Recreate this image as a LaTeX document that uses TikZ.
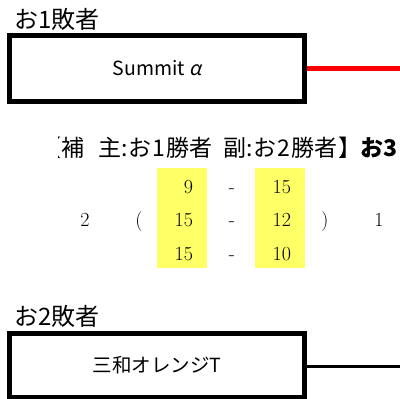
\documentclass[tikz,border=0pt]{standalone}
\usepackage{fontspec}
\usetikzlibrary{positioning}
\newfontfamily\jpfont{Noto Sans CJK JP}
\newfontfamily\jpwide[LetterSpace=3]{Noto Sans CJK JP}
\newfontfamily\jpslant[FakeSlant=0.2]{Noto Sans CJK JP}
\definecolor{scoreyellow}{RGB}{255,255,102}

\begin{document}
\begin{tikzpicture}[x=1pt,y=-1pt]

	\tikzstyle{team}  = [rectangle, draw=black, line width=5pt, minimum width=295pt, minimum height=66pt, inner sep=0pt, font=\jpfont\fontsize{19.5}{22}\selectfont]
	\tikzstyle{tag}   = [anchor=base west, inner sep=0pt, font=\jpfont\fontsize{24}{26}\selectfont]
	\tikzstyle{ref}   = [anchor=base west, inner sep=0pt, font=\jpwide\fontsize{23}{25}\selectfont]
	\tikzstyle{cell}  = [fill=scoreyellow, minimum height=33.4pt, inner xsep=14pt, inner ysep=0pt, outer sep=0pt, text width=22pt, align=right, text height=17.2pt, text depth=0pt, font=\fontsize{20}{22}\selectfont]
	\tikzstyle{num}   = [anchor=base, inner sep=0pt, font=\fontsize{20}{22}\selectfont]
	\tikzstyle{winline}  = [draw=red, line width=5pt]
	\tikzstyle{loseline} = [draw=black, line width=3pt]

	\useasboundingbox (0,0) rectangle (400,399);

	% losers of the earlier rounds
	\node [tag] (tag1) at (14,28) {お1敗者};
	\node [team] (loser1) at (157,68.5) {Summit {\jpslant α}};
	\coordinate (end1) at (400,68.5);
	\draw [winline] (loser1.east) -- (end1);

	\node [tag] (tag2) at (14,325) {お2敗者};
	\node [team, minimum height=64pt] (loser2) at (157,365.5) {三和オレンジT};
	\coordinate (end2) at (400,366);
	\draw [loseline] (loser2.east |- end2) -- (end2);

	% referee line, cut at the left
	\begin{scope}
		\clip (58,130) rectangle (96,175);
		\node [ref] (ref0) at (38,156) {【補};
	\end{scope}
	\node [ref] (ref1) at (98,156) {主:お1勝者};
	\node [ref] (ref2) at (223,156) {副:お2勝者】};
	\node [ref, anchor=base east, font=\jpfont\bfseries\fontsize{23}{25}\selectfont] (next) at (398,156) {お3};

	% set scores
	\node [cell] (a1) at (182,184.7) {9};
	\node [cell, below=0pt of a1] (a2) {15};
	\node [cell, below=0pt of a2] (a3) {15};
	\node [cell] (b1) at (280,184.7) {15};
	\node [cell, below=0pt of b1] (b2) {12};
	\node [cell, below=0pt of b2] (b3) {10};

	\foreach \r in {1,2,3}
		\node [num] (dash\r) at (a\r.base -| 232,0) {-};

	\node [num] (won1) at (a2.base -| 85,0) {2};
	\node [num] (open) at (a2.base -| 139,0) {(};
	\node [num] (close) at (a2.base -| 325,0) {)};
	\node [num] (won2) at (a2.base -| 379,0) {1};

\end{tikzpicture}
\end{document}
